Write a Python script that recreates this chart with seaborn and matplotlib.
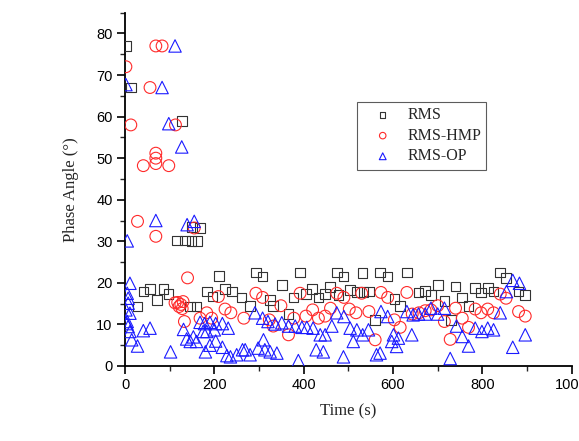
import numpy as np
import pandas as pd
import matplotlib
matplotlib.use("Agg")
import matplotlib.pyplot as plt
from matplotlib.ticker import MultipleLocator
import seaborn as sns

# ---- data ----
rms_t = [3, 13, 127, 116, 134, 149, 162, 150, 168, 210,
         28, 41, 56, 71, 86, 97, 146, 160, 183, 196, 224, 239, 261, 280,
         293, 308, 325, 332, 351, 366, 377, 392, 405, 418, 433, 448, 459,
         474, 489, 478, 504, 519, 532, 534, 546, 560, 571, 588, 603, 616,
         631, 657, 672, 685, 700, 715, 730, 740, 755, 769, 784, 797, 812,
         825, 840, 853, 881, 896]
rms_v = [77, 67, 59, 30.2, 30.2, 30.0, 30.0, 33.5, 33.2, 21.7,
         14.3, 17.9, 18.5, 15.9, 18.5, 17.3, 14.3, 14.3, 17.9, 16.7, 18.5, 17.9, 16.5, 14.5,
         22.5, 21.5, 15.9, 14.5, 19.5, 12.5, 16.5, 22.5, 17.3, 18.5, 16.5, 17.3, 19.0,
         22.5, 21.5, 17.1, 18.3, 17.8, 22.3, 17.8, 17.9, 11.1, 22.5, 21.5, 16.1, 14.5,
         22.5, 17.7, 18.1, 17.1, 19.5, 15.7, 11.1, 19.1, 16.5, 14.5, 18.7, 17.7, 18.7,
         17.9, 22.5, 21.1, 17.9, 17.1]

hmp_t = [2, 13, 56, 69, 83, 113, 41, 69, 69, 69, 98, 28, 69, 155, 140,
         112, 118, 125, 130, 128, 121, 133, 168, 183, 194, 209, 224, 237, 266,
         293, 308, 323, 332, 349, 366, 378, 392, 405, 420, 433, 448, 460,
         474, 490, 502, 517, 530, 546, 560, 573, 588, 603, 616, 631, 643,
         658, 672, 685, 700, 715, 728, 740, 755, 769, 784, 797, 812, 825,
         840, 853, 881, 896]
hmp_v = [72, 58, 67, 77, 77, 58, 48.2, 51.2, 50.0, 48.7, 48.2, 34.8, 31.2, 33.2, 21.2,
         15.2, 15.3, 14.8, 15.5, 13.8, 14.3, 10.7, 11.5, 12.8, 11.5, 16.7, 13.7, 12.8, 11.5,
         17.5, 16.5, 11.1, 9.6, 14.5, 7.5, 11.5, 17.5, 12.0, 13.5, 11.5, 12.0, 13.9,
         17.5, 16.5, 13.7, 12.8, 17.5, 13.1, 6.3, 17.7, 16.5, 11.1, 9.3, 17.7, 12.5,
         12.8, 13.3, 13.5, 14.5, 10.7, 6.4, 13.9, 11.5, 9.3, 13.7, 12.8, 13.7, 12.8,
         17.3, 16.3, 13.1, 12.0]

op_t = [112, 83, 2, 98, 127, 69, 5, 139, 155,
        11, 5, 7, 7, 11, 5, 7, 11, 15, 2, 4, 28, 41, 56, 102,
        131, 138, 146, 153, 160, 168, 178, 190, 203, 218, 231, 175, 183, 200,
        180, 190, 203, 218, 228, 236, 250, 263,
        269, 280, 291, 298, 308, 310, 313, 320, 325, 336, 340, 351, 366, 381,
        388, 396, 407, 421, 428, 437, 444, 448, 463, 474, 489, 490, 504, 511,
        519, 532, 545, 563, 571, 573, 588, 597, 601, 608, 612, 631, 642, 645,
        657, 672, 685, 700, 715, 728, 742, 755, 769, 784, 799, 812, 825, 840,
        854, 868, 883, 868, 896]
op_v = [77, 67, 67.7, 58.3, 52.7, 35.0, 30.1, 34.0, 34.8,
        19.9, 17.5, 16.3, 15.1, 12.7, 10.7, 9.5, 8.3, 6.3, 13.5, 10.2, 4.8, 8.5, 9.1, 3.4,
        8.8, 6.5, 5.9, 7.0, 5.9, 10.5, 10.2, 10.5, 10.2, 10.2, 9.1, 8.3, 8.3, 8.7,
        3.4, 5.0, 6.0, 4.5, 2.5, 2.2, 2.7, 3.9,
        3.9, 2.7, 12.8, 4.3, 11.5, 6.3, 3.9, 10.7, 3.4, 10.1, 3.1, 10.4, 9.6, 9.6,
        1.3, 9.3, 9.3, 9.1, 3.9, 7.5, 3.4, 7.5, 9.6, 12.8, 2.2, 11.9, 9.1, 5.9,
        8.7, 7.5, 8.7, 2.7, 3.1, 13.1, 11.9, 5.9, 7.5, 4.7, 6.7, 13.1, 7.5, 12.3,
        12.5, 12.5, 13.9, 12.5, 13.9, 1.8, 9.6, 7.1, 4.8, 9.1, 8.3, 9.1, 8.7, 12.8,
        17.9, 20.6, 19.9, 4.5, 7.5]

series_names = ["RMS", "RMS-HMP", "RMS-OP"]
x_ticks = [0, 200, 400, 600, 800, 1000]
y_ticks = [0, 10, 20, 30, 40, 50, 60, 70, 80]

df = pd.concat([
    pd.DataFrame({"Time": rms_t, "Angle": rms_v, "Method": "RMS"}),
    pd.DataFrame({"Time": hmp_t, "Angle": hmp_v, "Method": "RMS-HMP"}),
    pd.DataFrame({"Time": op_t, "Angle": op_v, "Method": "RMS-OP"}),
], ignore_index=True)

sns.set_theme(style="white")
plt.rcParams["font.family"] = ["Liberation Sans", "DejaVu Sans"]

fig = plt.figure(figsize=(5.79, 4.41), dpi=100)
ax = fig.add_axes([0.2159, 0.1701, 0.7715, 0.8011])

styles = {
    "RMS": dict(marker="s", color="#333333", s=48),
    "RMS-HMP": dict(marker="o", color="#ff2a2a", s=72),
    "RMS-OP": dict(marker="^", color="#1a1aff", s=80),
}
for name in series_names:
    st = styles[name]
    sub = df[df["Method"] == name]
    sns.scatterplot(data=sub, x="Time", y="Angle", ax=ax, marker=st["marker"],
                    s=st["s"], facecolor="none", edgecolor=st["color"],
                    linewidth=0.8, label=name, zorder=3)

ax.set_xlim(0, 1000)
ax.set_ylim(0, 85)
ax.set_xticks(x_ticks)
ax.set_xticklabels([str(v) for v in x_ticks])
ax.set_yticks(y_ticks)
ax.set_yticklabels([str(v) for v in y_ticks])
ax.xaxis.set_minor_locator(MultipleLocator(100))
ax.yaxis.set_minor_locator(MultipleLocator(5))
ax.tick_params(which="major", direction="out", length=6, width=1.2,
               labelsize=10.5, colors="black", bottom=True, left=True, pad=3)
ax.tick_params(which="minor", direction="out", length=3.5, width=1.0,
               bottom=True, left=True)
for side in ["top", "right"]:
    ax.spines[side].set_visible(False)
for side in ["left", "bottom"]:
    ax.spines[side].set_color("black")
    ax.spines[side].set_linewidth(1.3)
ax.set_facecolor("white")

serif = ["Liberation Serif", "DejaVu Serif"]
ax.set_xlabel("Time (s)", family=serif, fontsize=12, labelpad=8)
ax.set_ylabel("Phase Angle (°)", family=serif, fontsize=12, labelpad=12)

leg = ax.legend(loc="upper left", bbox_to_anchor=(0.519, 0.747), borderaxespad=0,
                frameon=True, fancybox=False, shadow=False, markerscale=0.55,
                prop={"family": serif, "size": 11.5}, handletextpad=0.25,
                borderpad=0.32, labelspacing=0.29, handlelength=2.6)
leg.get_frame().set_edgecolor("#333333")
leg.get_frame().set_linewidth(0.8)

fig.savefig("out.png", dpi=100)
